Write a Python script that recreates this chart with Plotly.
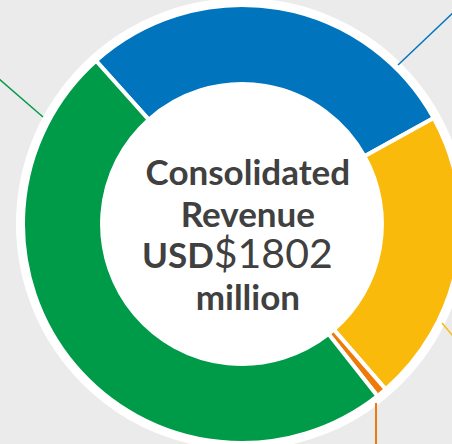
import plotly.graph_objects as go

# Data (USD million)
segments = ["Segment A", "Segment B", "Segment C", "Segment D"]
revenue = [515, 390, 14, 883]
colors = ["#0075BE", "#F9BA0B", "#EE7A0A", "#009B48"]
centre_lines = ["Consolidated", "Revenue", "USD", "$1802", "million"]

W, H = 470, 444          # figure is a little wider than the 452px view (clipped, as in the reference)
cx, cy, R = 242, 224, 219  # pixel centre & outer radius of the ring


def px(x):
    return x / W


def py(y):
    return (H - y) / H


fig = go.Figure()
fig.add_trace(go.Pie(
    labels=segments,
    values=revenue,
    hole=0.639,
    sort=False,
    direction="clockwise",
    rotation=-41.8,
    marker=dict(colors=colors, line=dict(color="white", width=4)),
    textinfo="none",
    hoverinfo="label+value",
    showlegend=False,
    domain=dict(x=[px(cx - R), px(cx + R)], y=[py(cy + R), py(cy - R)]),
))

shapes = [
    # white halo behind the ring
    dict(type="circle", xref="paper", yref="paper", layer="below",
         x0=px(cx - 226), x1=px(cx + 226), y0=py(cy + 226), y1=py(cy - 226),
         fillcolor="white", line=dict(width=0)),
    # leader lines to labels outside the view
    dict(type="line", xref="paper", yref="paper", x0=px(398), y0=py(65), x1=px(458), y1=py(8),
         line=dict(color="#0075BE", width=1.5)),
    dict(type="line", xref="paper", yref="paper", x0=px(-2), y0=py(78), x1=px(43), y1=py(117),
         line=dict(color="#009B48", width=1.5)),
    dict(type="line", xref="paper", yref="paper", x0=px(442), y0=py(323), x1=px(458), y1=py(342),
         line=dict(color="#F9BA0B", width=1.5)),
    dict(type="line", xref="paper", yref="paper", x0=px(376), y0=py(403), x1=px(376), y1=py(448),
         line=dict(color="#EE7A0A", width=2)),
]

font = "Lato, 'Open Sans', sans-serif"
tc = "#404040"
b = "<span style='font-size:35px'><b>{}</b></span>"
centre_text = "<br>".join([
    b.format(centre_lines[0]),
    b.format(centre_lines[1]),
    "<span style='font-size:35px'><b>" + centre_lines[2] + "</b></span>"
    + "<span style='font-size:41px'>" + centre_lines[3] + "&nbsp;&nbsp;</span>",
    b.format(centre_lines[4]),
])

fig.update_layout(
    width=W, height=H,
    margin=dict(l=0, r=0, t=0, b=0),
    paper_bgcolor="#EBEBEB",
    plot_bgcolor="#EBEBEB",
    shapes=shapes,
    annotations=[dict(
        text=centre_text, x=px(248), y=py(233), xref="paper", yref="paper",
        xanchor="center", yanchor="middle", showarrow=False, align="center",
        font=dict(family=font, size=32, color=tc),
    )],
)

fig.write_html(
    "out.html",
    config={"displayModeBar": False},
    post_script="document.body.style.margin='0';document.body.style.overflow='hidden';",
)
